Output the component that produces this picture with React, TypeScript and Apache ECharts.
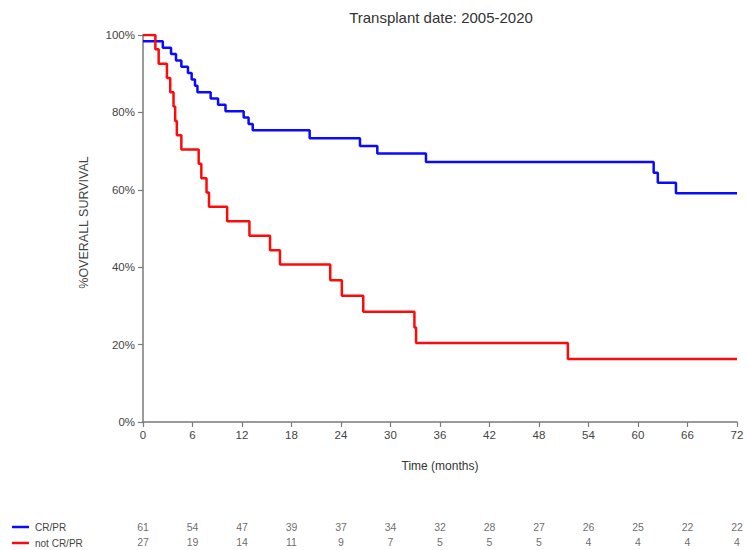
import React, { useEffect, useRef } from "react";
import * as echarts from "echarts";

const blueName = "CR/PR";
const redName = "not CR/PR";

const blueTimes = [0, 2.4, 3.4, 4.0, 4.65, 5.45, 5.9, 6.3, 6.6, 8.2, 9.1, 10.0, 12.2, 12.8, 13.3, 20.2, 26.3, 28.4, 34.3, 61.9, 62.4, 64.6, 72];
const blueSurv = [98.4, 96.7, 95.1, 93.4, 91.8, 90.2, 88.5, 86.9, 85.2, 83.6, 82.0, 80.3, 78.7, 77.0, 75.4, 73.3, 71.3, 69.4, 67.2, 64.4, 61.8, 59.1, 59.1];

const redTimes = [0, 1.5, 1.9, 2.9, 3.3, 3.7, 3.9, 4.1, 4.65, 6.75, 7.07, 7.7, 8.0, 10.2, 12.9, 15.4, 16.6, 22.7, 24.1, 26.7, 32.9, 33.1, 51.5, 72];
const redSurv = [100, 96.3, 92.6, 88.9, 85.2, 81.5, 77.8, 74.1, 70.4, 66.7, 63.0, 59.3, 55.6, 51.9, 48.1, 44.4, 40.7, 36.6, 32.6, 28.5, 24.4, 20.4, 16.3, 16.3];

const riskMonths = [0, 6, 12, 18, 24, 30, 36, 42, 48, 54, 60, 66, 72];
const riskBlue = [61, 54, 47, 39, 37, 34, 32, 28, 27, 26, 25, 22, 22];
const riskRed = [27, 19, 14, 11, 9, 7, 5, 5, 5, 4, 4, 4, 4];

const titleText = "Transplant date: 2005-2020";
const xName = "Time (months)";
const yName = "%OVERALL SURVIVAL";

const BLUE = "#0a0aff";
const RED = "#ff0a0a";
const AXIS = "#7a7a7a";
const TXT = "#444";
const FONT = "Liberation Sans, Arial, sans-serif";

export default function App() {
  const ref = useRef<HTMLDivElement>(null);
  useEffect(() => {
    if (!ref.current) return;
    const chart = echarts.init(ref.current, null, { renderer: "svg" });
    const zip = (a: number[], b: number[]) => a.map((t, i) => [t, b[i]]);
    chart.setOption({
      animation: false,
      backgroundColor: "#fff",
      textStyle: { fontFamily: FONT },
      grid: [
        { left: 143, right: 11, top: 35, bottom: 128 },
        { left: 143, right: 11, top: 519, height: 32 },
      ],
      xAxis: [
        {
          type: "value",
          gridIndex: 0,
          min: 0,
          max: 72,
          interval: 6,
          name: xName,
          nameLocation: "middle",
          nameGap: 38,
          nameTextStyle: { color: "#333", fontSize: 12, fontFamily: FONT },
          axisLine: { lineStyle: { color: AXIS, width: 1.5 } },
          axisTick: { show: true, length: 5, lineStyle: { color: AXIS, width: 1.2 } },
          axisLabel: { color: TXT, fontSize: 11.5, margin: 7, fontFamily: FONT },
          splitLine: { show: false },
        },
        {
          type: "value",
          gridIndex: 1,
          min: 0,
          max: 72,
          show: false,
        },
      ],
      yAxis: [
        {
          type: "value",
          gridIndex: 0,
          min: 0,
          max: 100,
          interval: 20,
          name: yName,
          nameLocation: "middle",
          nameGap: 53,
          nameRotate: 90,
          nameTextStyle: { color: "#444", fontSize: 12.5, fontFamily: FONT, padding: [0, 0, 0, 12] },
          axisLine: { show: true, lineStyle: { color: AXIS, width: 1.5 } },
          axisTick: { show: true, length: 5, lineStyle: { color: AXIS, width: 1.2 } },
          axisLabel: { color: TXT, fontSize: 11.5, margin: 8, formatter: "{value}%", fontFamily: FONT },
          splitLine: { show: false },
        },
        {
          type: "category",
          gridIndex: 1,
          data: [redName, blueName],
          show: false,
        },
      ],
      graphic: [
        {
          type: "text",
          x: 441,
          y: 17,
          style: { text: titleText, fill: "#333", fontSize: 15, fontFamily: FONT, align: "center", verticalAlign: "middle" },
        },
        { type: "line", shape: { x1: 12, y1: 527, x2: 29, y2: 527 }, style: { stroke: BLUE, lineWidth: 2.5 } },
        { type: "line", shape: { x1: 12, y1: 543, x2: 29, y2: 543 }, style: { stroke: RED, lineWidth: 2.5 } },
        {
          type: "text",
          x: 35,
          y: 527,
          style: { text: blueName, fill: "#444", fontSize: 10, fontFamily: FONT, verticalAlign: "middle" },
        },
        {
          type: "text",
          x: 35,
          y: 543,
          style: { text: redName, fill: "#444", fontSize: 10, fontFamily: FONT, verticalAlign: "middle" },
        },
      ],
      series: [
        {
          type: "line",
          name: blueName,
          xAxisIndex: 0,
          yAxisIndex: 0,
          step: "end",
          symbol: "none",
          lineStyle: { color: BLUE, width: 2.5 },
          data: zip(blueTimes, blueSurv),
          z: 3,
        },
        {
          type: "line",
          name: redName,
          xAxisIndex: 0,
          yAxisIndex: 0,
          step: "end",
          symbol: "none",
          lineStyle: { color: RED, width: 2.5 },
          data: zip(redTimes, redSurv),
          z: 4,
        },
        {
          type: "scatter",
          xAxisIndex: 1,
          yAxisIndex: 1,
          symbolSize: 0,
          label: {
            show: true,
            position: "inside",
            formatter: (p: any) => String(p.value[2]),
            color: "#444",
            fontSize: 10.5,
            fontFamily: FONT,
          },
          data: riskMonths.map((m, i) => [m, blueName, riskBlue[i]]),
        },
        {
          type: "scatter",
          xAxisIndex: 1,
          yAxisIndex: 1,
          symbolSize: 0,
          label: {
            show: true,
            position: "inside",
            formatter: (p: any) => String(p.value[2]),
            color: "#444",
            fontSize: 10.5,
            fontFamily: FONT,
          },
          data: riskMonths.map((m, i) => [m, redName, riskRed[i]]),
        },
      ],
    });
    return () => chart.dispose();
  }, []);
  return <div ref={ref} style={{ position: "absolute", left: 0, top: 0, width: 748, height: 550 }} />;
}
